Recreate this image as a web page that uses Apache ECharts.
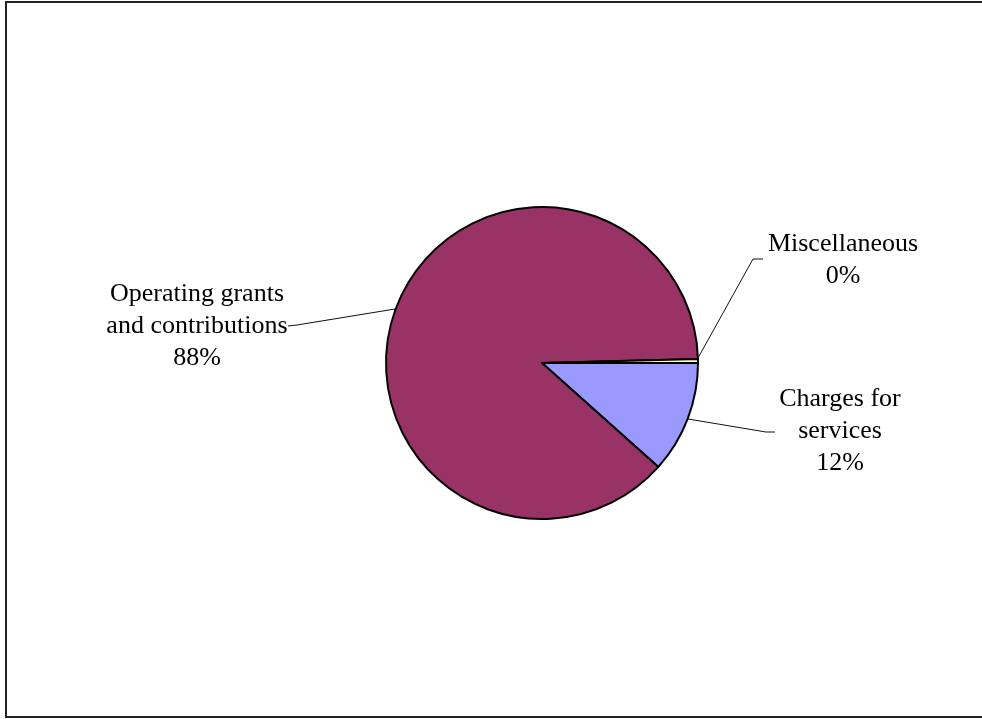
<!DOCTYPE html>
<html>
<head>
<meta charset="utf-8">
<script src="https://cdn.jsdelivr.net/npm/echarts@6/dist/echarts.min.js"></script>
<style>
html,body{margin:0;padding:0;background:#fff;}
#chart{width:982px;height:719px;}
</style>
</head>
<body>
<div id="chart"></div>
<script>
const categories = ['Charges for\nservices', 'Operating grants\nand contributions', 'Miscellaneous'];
const values = [11.6, 88.0, 0.4];
const colors = ['#9999FF', '#993366', '#FFFFCC'];

// label layout (annotation placement, not data)
const labelPlacement = [
  { x: 840, y: 431, line: [[688, 419], [766, 432], [775, 432]] },
  { x: 197, y: 326, line: [[395, 309], [297, 325], [288, 326]] },
  { x: 843, y: 260, line: [[698, 358], [753, 259], [763, 259]] }
];

const total = values.reduce((a, b) => a + b, 0);
const chart = echarts.init(document.getElementById('chart'), null, { renderer: 'canvas' });
chart.setOption({
  backgroundColor: '#fff',
  animation: false,
  graphic: [{
    type: 'rect',
    shape: { x: 6, y: 2, width: 1000, height: 715 },
    style: { fill: 'none', stroke: '#222', lineWidth: 2 },
    silent: true
  }],
  series: [{
    type: 'pie',
    center: [542, 363],
    radius: 156,
    startAngle: 0,
    clockwise: true,
    avoidLabelOverlap: false,
    data: categories.map((c, i) => ({
      name: c,
      value: values[i],
      itemStyle: { color: colors[i] }
    })),
    itemStyle: { borderColor: '#000', borderWidth: 2 },
    label: {
      show: true,
      position: 'outside',
      fontFamily: 'Liberation Serif',
      fontSize: 26,
      lineHeight: 32,
      color: '#000',
      align: 'center',
      formatter: p => p.name + '\n' + Math.round(p.value / total * 100) + '%'
    },
    labelLine: { show: true, lineStyle: { color: '#111', width: 1 } },
    labelLayout: function (params) {
      const lp = labelPlacement[params.dataIndex];
      return {
        x: lp.x,
        y: lp.y,
        align: 'center',
        verticalAlign: 'middle',
        labelLinePoints: lp.line
      };
    },
    emphasis: { disabled: true }
  }]
});
</script>
</body>
</html>
